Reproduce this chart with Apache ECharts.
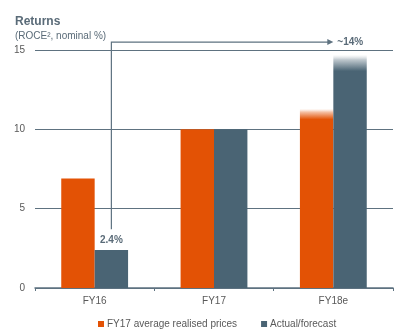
<!DOCTYPE html>
<html><head><meta charset="utf-8">
<script src="https://cdn.jsdelivr.net/npm/echarts@6/dist/echarts.min.js"></script>
<style>html,body{margin:0;padding:0;background:#fff}#c{width:405px;height:334px}</style>
</head><body><div id="c"></div>
<script>
const categories = ['FY16', 'FY17', 'FY18e'];
const fy17Prices = [6.9, 10, 11.3];
const actualForecast = [2.4, 10, 14.7];
const yTicks = [0, 5, 10, 15];
const seriesNames = ['FY17 average realised prices', 'Actual/forecast'];
const fy16Label = '2.4%';
const fy18Label = '~14%';
const bracketLevel = 15.5;
const bracketBottom = 3.7;
const fadeIndex = 2;

const ORANGE = '#E35205';
const GREY = '#4A6474';
const LINE = '#5E7280';
const TXT = '#595959';
const FONT = '"Liberation Sans", Arial, sans-serif';

function fade(c, stop) {
  return new echarts.graphic.LinearGradient(0, 0, 0, 1, [
    { offset: 0, color: 'rgba(255,255,255,0.2)' },
    { offset: stop * 0.3, color: echarts.color.modifyAlpha(c, 0.35) },
    { offset: stop, color: c },
    { offset: 1, color: c }
  ]);
}

const chart = echarts.init(document.getElementById('c'), null, { renderer: 'canvas' });
chart.setOption({
  animation: false,
  backgroundColor: '#fff',
  textStyle: { fontFamily: FONT },
  title: {
    text: 'Returns',
    subtext: '(ROCE\u00B2, nominal %)',
    left: 10, top: 11,
    itemGap: 3,
    textStyle: { fontSize: 12, fontWeight: 'bold', color: '#5A6B78', fontFamily: FONT },
    subtextStyle: { fontSize: 10, color: '#5A6B78', fontFamily: FONT }
  },
  legend: {
    left: 93, top: 314,
    icon: 'rect', itemWidth: 6, itemHeight: 6, itemGap: 24,
    textStyle: { fontSize: 10, color: TXT, padding: [0, 0, 0, -2], fontFamily: FONT },
    data: seriesNames
  },
  grid: { left: 35, right: 12, top: 50, bottom: 46, containLabel: false },
  xAxis: {
    type: 'category', data: categories,
    axisLine: { lineStyle: { color: LINE, width: 1.5 } },
    axisTick: { show: true, length: 3, lineStyle: { color: LINE } },
    axisLabel: { color: TXT, fontSize: 10, margin: 8, fontFamily: FONT }
  },
  yAxis: {
    type: 'value', min: yTicks[0], max: yTicks[yTicks.length - 1], interval: 5,
    axisLine: { show: false }, axisTick: { show: false },
    axisLabel: { color: TXT, fontSize: 10, margin: 10, fontFamily: FONT },
    splitLine: { lineStyle: { color: LINE, width: 1 } }
  },
  series: [
    {
      name: seriesNames[0], type: 'bar', color: ORANGE,
      barGap: '0%', barCategoryGap: '44%',
      data: fy17Prices.map((v, i) => i === fadeIndex ? { value: v, itemStyle: { color: fade(ORANGE, 0.06) } } : v)
    },
    {
      name: seriesNames[1], type: 'bar', color: GREY,
      data: actualForecast.map((v, i) => {
        if (i === 0) return { value: v, label: { show: true, position: 'top', distance: 5, formatter: fy16Label, color: '#5A6B78', fontSize: 10, fontWeight: 'bold', fontFamily: FONT } };
        if (i === fadeIndex) return { value: v, itemStyle: { color: fade(GREY, 0.07) } };
        return v;
      })
    }
  ]
});

const lay = chart.getModel().getSeriesByIndex(1).getData().getItemLayout(0);
const x0 = lay.x + lay.width / 2;
const yt = chart.convertToPixel({ gridIndex: 0 }, [categories[0], bracketLevel])[1];
const yb = chart.convertToPixel({ gridIndex: 0 }, [categories[0], bracketBottom])[1];
const xe = chart.convertToPixel({ gridIndex: 0 }, [categories[fadeIndex], bracketLevel])[0];
chart.setOption({
  graphic: [
    { type: 'polyline', shape: { points: [[x0, yb], [x0, yt], [xe - 4, yt]] }, style: { stroke: LINE, lineWidth: 1.2, fill: null } },
    { type: 'polygon', shape: { points: [[xe - 6, yt - 3], [xe, yt], [xe - 6, yt + 3]] }, style: { fill: LINE } },
    { type: 'text', x: xe + 4, y: yt, style: { text: fy18Label, fill: '#5A6B78', fontSize: 10, fontWeight: 'bold', verticalAlign: 'middle', fontFamily: FONT } }
  ]
});
</script>
</body></html>
